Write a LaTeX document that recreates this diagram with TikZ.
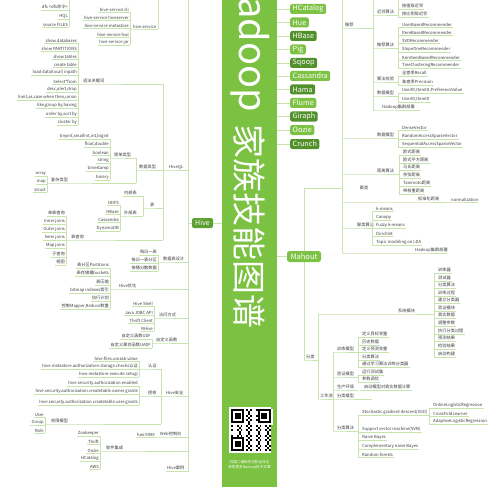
\documentclass[tikz,border=0pt]{standalone}
\usepackage{fontspec}
\setmainfont{Noto Sans CJK SC}
\definecolor{lg}{HTML}{C9E3AE}
\definecolor{tg}{HTML}{3C3C3C}
\definecolor{band}{HTML}{7BC142}
\definecolor{dk}{HTML}{51902A}
\definecolor{lt}{HTML}{7DC244}
\definecolor{hv}{HTML}{5E9F31}
\tikzset{
 tx/.style={font=\fontsize{4.2}{5}\selectfont, text=tg, inner xsep=1pt, inner ysep=0.7pt},
 ln/.style={draw=lg, line width=0.6pt},
 tool/.style={rounded corners=2pt, text=white, font=\fontsize{7.2}{8}\selectfont, inner xsep=2.5pt, inner ysep=0pt, minimum height=10pt, anchor=west},
 lightbox/.style={tool, fill=lt},
 darkbox/.style={tool, fill=dk},
 hivebox/.style={rounded corners=2pt, fill=hv, text=white, font=\fontsize{7}{8}\selectfont, inner xsep=2.5pt, inner ysep=0pt, minimum height=10pt, minimum width=21pt},
 mahoutbox/.style={rounded corners=2.5pt, fill=lt, text=white, font=\fontsize{7.5}{8}\selectfont, inner ysep=0pt, minimum height=11pt, minimum width=34pt},
}
% left leaf: name, bracket x, centre y, text
\newcommand\Lf[4]{\node[tx,anchor=south east] (#1) at (#2,#3+3) {#4};\draw[ln] (#1.south west) -- (#1.south east);}
% left parent: name, child bracket x, label x, centre y, text, parent bracket x
\newcommand\Lp[6]{\node[tx,anchor=south west] (#1) at (#3-1,#4+3) {#5};\draw[ln] (#2,#4+3) -- (#1.south west) -- (#6,#4+3);}
% right leaf: name, bracket x, centre y, text
\newcommand\Rf[4]{\node[tx,anchor=south west] (#1) at (#2+3,#3+3) {#4};\draw[ln] (#2,#3+3) -- (#1.south east);}
% right parent: name, start x, label x, centre y, text, end x
\newcommand\Rp[6]{\node[tx,anchor=south west] (#1) at (#3-1,#4+3) {#5};\draw[ln] (#2,#4+3) -- (#1.south west) -- (#6,#4+3);}
\begin{document}
\begin{tikzpicture}[x=1pt,y=-1pt]
\useasboundingbox (0,0) rectangle (500,500);
\fill[white] (0,0) rectangle (500,500);

% ---------------- banner ----------------
\fill[band] (222,-5) rectangle (277,487);
\node[rotate=-90, anchor=east, text=white, font=\fontsize{38}{40}\selectfont, inner sep=0pt] (t1) at (250,112) {Hadoop};
\node[rotate=-90, anchor=west, text=white, font=\fontsize{34}{36}\selectfont, inner sep=0pt] (t2) at (250,124) {家族技能图谱};
% QR code
\fill[white] (229,407) rectangle (271,453);
\begin{scope}[shift={(231,409)}]
\foreach \i in {0,...,20}{\foreach \j in {0,...,20}{
  \pgfmathtruncatemacro\v{mod(\i*\i*3+\j*7+\i*\j*5+\j*\j+\i,5)}
  \ifnum\v<2 \fill[black] (\i*1.9,\j*2.0) rectangle ++(1.9,2.0);\fi}}
\foreach \p/\q in {0/0,14/0,0/14}{
  \fill[white] (\p*1.9-0.1,\q*2.0-0.1) rectangle ++(7.9*1.9,7.9*2.0);
  \fill[black] (\p*1.9,\q*2.0) rectangle ++(7*1.9,7*2.0);
  \fill[white] (\p*1.9+1.9,\q*2.0+2.0) rectangle ++(5*1.9,5*2.0);
  \fill[black] (\p*1.9+3.8,\q*2.0+4.0) rectangle ++(3*1.9,3*2.0);}
\end{scope}
\node[text=white, font=\fontsize{3.6}{4.5}\selectfont, align=center, inner sep=0pt] (qrt) at (249.5,465) {扫描二维码关注粉丝日志\\获取更多Hadoop技术文章};

% ---------------- Hive ----------------
\draw[ln] (188,0) -- (188,472);
\node[hivebox] (hive) at (202.5,223) {Hive};
\draw[ln] (188,223) -- (hive.west);
\draw[ln] (hive.east) -- (222,223);

\Lf{a1}{69}{7}{dfs <dfs命令>}
\Lf{a2}{69}{16}{HQL}
\Lf{a3}{69}{24}{source FILES}
\draw[ln] (69,0) -- (a3.south east);

\Lf{b1}{130}{9}{hive-service cli}
\Lf{b2}{130}{17}{hive-service hiveserver}
\Lf{b3}{130}{25}{hive-service metastore}
\Lf{b4}{130}{34}{hive-service hwi}
\Lf{b5}{130}{42}{hive-service jar}
\draw[ln] (b1.south east) -- (b5.south east);
\Lp{bp}{130}{133}{26}{hive service}{158}
\draw[ln] (158,0) -- (158,29);

\Lf{k1}{78}{40}{show databases}
\Lf{k2}{78}{48}{show PARTITIONS}
\Lf{k3}{78}{56}{show tables}
\Lf{k4}{78}{64}{create table}
\Lf{k5}{78}{72}{load data(local) inpath}
\Lf{k6}{78}{81}{Select*from}
\Lf{k7}{78}{89}{desc,alert,drop}
\Lf{k8}{78}{97}{limit,as,case when then,union}
\Lf{k9}{78}{105}{like,group by,having}
\Lf{k10}{78}{114}{order by,sort by}
\Lf{k11}{78}{122}{cluster by}
\draw[ln] (k1.south east) -- (k11.south east);
\Lp{kp}{78}{83}{81}{语法关键词}{163}

\Lf{s1}{110}{136}{tinyint,smallint,int,bigint}
\Lf{s2}{110}{144}{float,double}
\Lf{s3}{110}{152}{boolean}
\Lf{s4}{110}{160}{string}
\Lf{s5}{110}{168}{timestamp}
\Lf{s6}{110}{177}{binary}
\draw[ln] (s1.south east) -- (s6.south east);
\Lp{sp}{110}{114}{155}{简单类型}{136}
\Lf{c1}{47}{173}{array}
\Lf{c2}{47}{181}{map}
\Lf{c3}{47}{189}{struct}
\draw[ln] (c1.south east) -- (c3.south east);
\Lp{cp}{47}{51}{180}{复杂类型}{136}
\draw[ln] (136,158) -- (136,183);
\Lp{dt}{136}{139}{167}{数据类型}{163}
\Lp{hql}{163}{169}{167}{HiveQL}{188}

\Lf{w1}{120}{202}{HDFS}
\Lf{w2}{120}{211}{HBase}
\Lf{w3}{120}{219}{Cassandra}
\Lf{w4}{120}{228}{DynamoDB}
\draw[ln] (w1.south east) -- (w4.south east);
\Lp{nb}{123}{124}{193}{内部表}{143}
\Lp{wb}{120}{124}{213}{外部表}{143}
\draw[ln] (143,196) -- (143,216);
\Lp{tb}{143}{150}{205}{表}{163}

\Lf{q1}{66}{213}{单表查询}
\Lf{q2}{66}{221}{Inner joins}
\Lf{q3}{66}{229}{Outer joins}
\Lf{q4}{66}{237}{Semi joins}
\Lf{q5}{66}{245}{Map joins}
\Lf{q6}{66}{254}{子查询}
\Lf{q7}{66}{262}{视图}
\draw[ln] (q1.south east) -- (q7.south east);
\Lp{tq}{66}{71}{237}{表查询}{163}
\draw[ln] (163,84) -- (163,240);

\Lf{d1}{158}{252}{每日一表}
\Lf{d2}{158}{260}{每日一表分区}
\Lf{d3}{158}{268}{按桶分散数据}
\draw[ln] (d1.south east) -- (d3.south east);
\Lp{sj}{158}{163}{259}{数据表设计}{188}

\Lf{y1}{110}{265}{表分区Partitions}
\Lf{y2}{110}{273}{表存储桶buckets}
\Lf{y3}{110}{282}{表压缩}
\Lf{y4}{110}{290}{bitmap indexes索引}
\Lf{y5}{110}{298}{执行计划}
\Lf{y6}{110}{306}{控制Mapper,Reduce数量}
\draw[ln] (y1.south east) -- (y6.south east);
\Lp{yh}{110}{119}{286}{Hive优化}{188}

\Lf{f1}{154}{303}{Hive Shell}
\Lf{f2}{154}{312}{Java JDBC API}
\Lf{f3}{154}{320}{Thrift Client}
\Lf{f4}{154}{328}{RHive}
\draw[ln] (f1.south east) -- (f4.south east);
\Lp{fw}{154}{159}{315}{访问方式}{188}

\Lf{u1}{152}{336}{自定义函数UDF}
\Lf{u2}{152}{345}{自定义聚合函数UADF}
\draw[ln] (u1.south east) -- (u2.south east);
\Lp{zd}{152}{156}{340}{自定义函数}{188}

\Lf{r1}{139}{358}{hive.files.umask.value}
\Lf{r2}{139}{366}{hive.metastore.authorization.storage.checks认证}
\Lf{r3}{139}{374}{hive.metastore.execute.setugi}
\draw[ln] (r1.south east) -- (r3.south east);
\Lp{rz}{139}{148}{366}{认证}{161}
\Lf{g1}{139}{383}{hive.security.authorization.enabled}
\Lf{g2}{139}{391}{hive.security.authorization.createtable.owner.grants}
\Lf{g3}{139}{402}{hive.security.authorization.createtable.user.grants}
\draw[ln] (g1.south east) -- (g3.south east);
\Lp{sq}{139}{148}{393}{授权}{161}
\Lf{m1}{45}{414}{User}
\Lf{m2}{45}{422}{Group}
\Lf{m3}{45}{430}{Role}
\draw[ln] (m1.south east) -- (m3.south east);
\Lp{qx}{45}{51}{421}{权限模型}{161}
\draw[ln] (161,369) -- (161,424);
\Lp{aq}{161}{166}{393}{Hive安全}{188}

\Lf{hw}{156}{434}{hwi:9999}
\Lp{web}{156}{160}{434}{Web控制台}{188}

\Lf{j1}{100}{433}{Zookeeper}
\Lf{j2}{100}{441}{Thrift}
\Lf{j3}{100}{450}{Oozie}
\Lf{j4}{100}{458}{HCatalog}
\Lf{j5}{100}{466}{AWS}
\draw[ln] (j1.south east) -- (j5.south east);
\Lp{rj}{100}{106}{448}{软件集成}{188}
\Lp{al}{166}{167}{468}{Hive案例}{188}

% ---------------- tools column ----------------
\foreach \nm/\st/\yy/\tt in {hcat/lightbox/9/HCatalog, hue/lightbox/22.5/Hue, hbase/darkbox/36/HBase, pig/lightbox/49.5/Pig, sqoop/darkbox/63/Sqoop, cass/lightbox/76/Cassandra, hama/darkbox/89.5/Hama, flume/lightbox/103/Flume, giraph/darkbox/116.5/Giraph, oozie/lightbox/130/Oozie, crunch/darkbox/144/Crunch}{
  \node[\st] (\nm) at (290,\yy) {\tt};
  \draw[ln] (277,\yy) -- (\nm.west);
}

% ---------------- Mahout ----------------
\draw[ln] (304,188) -- (304,360);
\draw[ln] (304,188) -- (342,188);
\draw[ln] (342,0) -- (342,253);
\node[mahoutbox] (mahout) at (304,256.5) {Mahout};
\draw[ln] (277,256.5) -- (mahout.west);

\Rp{tj}{342}{345}{25}{推荐}{373}
\draw[ln] (373,0) -- (373,110);
\Rp{jl}{373}{377}{12}{近邻算法}{398}
\Rf{jl1}{398}{6}{按值取近邻}
\Rf{jl2}{398}{14}{按比例取近邻}
\draw[ln] (398,0) -- (398,17);
\Rp{ts}{373}{377}{45}{推荐算法}{398}
\Rf{ts1}{398}{24}{UserBasedRecommender}
\Rf{ts2}{398}{32}{ItemBasedRecommender}
\Rf{ts3}{398}{40}{SVDRecommender}
\Rf{ts4}{398}{49}{SlopeOneRecommender}
\Rf{ts5}{398}{57}{KnnItemBasedRecommender}
\Rf{ts6}{398}{65}{TreeClusteringRecommender}
\draw[ln] (398,27) -- (398,68);
\Rp{jy}{373}{377}{79}{算法校验}{398}
\Rf{jy1}{398}{73}{全查率Recall}
\Rf{jy2}{398}{82}{准查率Precision}
\draw[ln] (398,76) -- (398,85);
\Rp{mx}{373}{377}{93}{数据模型}{398}
\Rf{mx1}{398}{90}{UserID,ItemID,PreferenceValue}
\Rf{mx2}{398}{99}{UserID,ItemID}
\draw[ln] (398,93) -- (398,102);
\Rp{hd1}{373}{382}{107}{Hadoop集群部署}{420}

\Rp{mx2}{342}{377}{135}{数据模型}{398}
\Rf{v1}{398}{127}{DenseVector}
\Rf{v2}{398}{136}{RandomAccessSparseVector}
\Rf{v3}{398}{144}{SequentialAccessSparseVector}
\draw[ln] (398,130) -- (398,147);
\Rp{jlsf}{342}{377}{171}{距离算法}{399}
\Rf{e1}{399}{152}{欧式距离}
\Rf{e2}{399}{160}{欧式平方距离}
\Rf{e3}{399}{167}{马氏距离}
\Rf{e4}{399}{175}{余弦距离}
\Rf{e5}{399}{183}{Tanimoto距离}
\Rf{e6}{399}{191}{带权重距离}
\draw[ln] (399,155) -- (399,194);
\Rp{bzh}{342}{418}{199}{标准化距离}{446}
\Rp{norm}{446}{451}{199}{normalization}{478}
\node[tx] (jul) at (364,188) {聚类};
\Rp{jlf}{342}{357}{225}{聚类算法}{372}
\Rf{k1r}{372}{208}{k-means}
\Rf{k2r}{372}{217}{Canopy}
\Rf{k3r}{372}{225}{Fuzzy k-means}
\Rf{k4r}{372}{233}{Dirichlet}
\Rf{k5r}{372}{242}{Topic modeling on LDA}
\draw[ln] (372,211) -- (372,245);
\Rp{hd2}{342}{415}{250}{Hadoop集群部署}{447}

\Rp{fl}{304}{306}{357}{分类}{318}
\draw[ln] (318,314) -- (318,399);
\Rp{xt}{318}{398}{311}{系统模块}{434}
\foreach \n/\yy/\tt in {1/270/训练器,2/278/测试器,3/285/分类算法,4/293/训练过程,5/300/建立分类器,6/308/验证模块,7/315/真实数据,8/323/调整参数,9/331/执行分类过程,10/338/预测结果,11/346/检验结果,12/354/启动构建}{
  \Rf{x\n}{434}{\yy}{\tt}
}
\draw[ln] (434,273) -- (434,357);
\Rp{gzl}{318}{320}{396}{工作流}{333}
\draw[ln] (333,352) -- (333,431);
\Rp{xl}{333}{337}{349}{训练模型}{358}
\Rf{xl1}{358}{334}{定义目标变量}
\Rf{xl2}{358}{342}{历史数据}
\Rf{xl3}{358}{349}{定义预测变量}
\Rf{xl4}{358}{357}{分类算法}
\Rf{xl5}{358}{364}{通过学习算法训练分类器}
\draw[ln] (358,337) -- (358,367);
\Rp{yz}{333}{337}{374}{验证模型}{358}
\Rf{yz1}{358}{372}{运行测试集}
\Rf{yz2}{358}{379}{参数调优}
\draw[ln] (358,375) -- (358,382);
\Rp{sc}{333}{337}{387}{生产环境}{358}
\Rf{sc1}{360}{387}{启动模型对真实数据计算}
\Rp{flmx}{333}{337}{396}{分类模型}{372}
\Rp{flsf}{333}{337}{428}{分类算法}{358}
\Rf{a1r}{358}{412}{Stochastic gradient descent(SGD)}
\Rf{a2r}{358}{429}{Support vector machine(SVM)}
\Rf{a3r}{358}{437}{Naive Bayes}
\Rf{a4r}{358}{446}{Complementary naive Bayes}
\Rf{a5r}{358}{454}{Random forests}
\draw[ln] (358,415) -- (358,457);
\draw[ln] (a1r.south east) -- (429,415);
\Rf{o1}{429}{405}{OnlineLogisticRegression}
\Rf{o2}{429}{413}{CrossFoldLearner}
\Rf{o3}{429}{421}{AdaptiveLogisticRegression}
\draw[ln] (429,408) -- (429,424);
\end{tikzpicture}
\end{document}
